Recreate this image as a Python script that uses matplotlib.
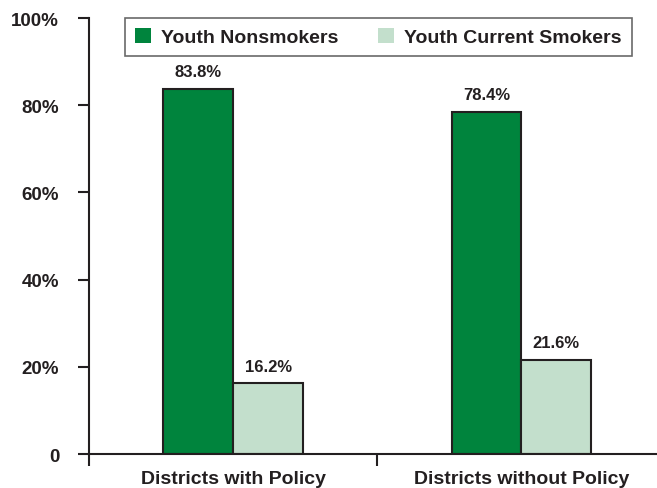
import matplotlib.pyplot as plt
import numpy as np

plt.rcParams['font.family'] = ['Liberation Sans', 'DejaVu Sans']
plt.rcParams['font.weight'] = 'bold'

# данные
categories = ["Districts with Policy", "Districts without Policy"]
nonsmokers = [83.8, 78.4]
smokers = [16.2, 21.6]
series_names = ["Youth Nonsmokers", "Youth Current Smokers"]

dark_green = "#00843d"
light_green = "#c3dfcc"
txt = "#231f20"

fig = plt.figure(figsize=(6.57, 4.89), dpi=100)
ax = fig.add_axes([0.1355, 0.0695, 0.8645, 0.8916])

x = np.arange(len(categories))
w = 0.242
b1 = ax.bar(x - w / 2, nonsmokers, w, color=dark_green, edgecolor=txt, linewidth=1.5, label=series_names[0])
b2 = ax.bar(x + w / 2, smokers, w, color=light_green, edgecolor=txt, linewidth=1.5, label=series_names[1])

for bars, vals in ((b1, nonsmokers), (b2, smokers)):
    for r, v in zip(bars, vals):
        ax.annotate("%.1f%%" % v, (r.get_x() + r.get_width() / 2, v), xytext=(0, 7),
                    textcoords="offset points", ha="center", va="bottom", fontsize=12, color=txt)

ax.set_ylim(0, 100)
ax.set_xlim(-0.5, 1.47)
ax.set_yticks([0, 20, 40, 60, 80, 100])
ax.set_yticklabels(["0", "20%", "40%", "60%", "80%", "100%"], fontsize=13.5, color=txt)
ax.set_xticks([-0.5, 0.5])
ax.set_xticklabels([])
ax.set_xticks(x, minor=True)
ax.set_xticklabels(categories, minor=True, fontsize=14, color=txt)
ax.tick_params(axis="x", which="minor", length=0, pad=11.5)
ax.tick_params(axis="x", which="major", length=8.5, width=1.5, color=txt)
ax.tick_params(axis="y", length=8, width=1.5, color=txt, pad=13.5)

for s in ("top", "right"):
    ax.spines[s].set_visible(False)
for s in ("left", "bottom"):
    ax.spines[s].set_linewidth(1.5)
    ax.spines[s].set_color(txt)

leg = ax.legend(loc="upper left", bbox_to_anchor=(0.0634, 1.0), borderaxespad=0, ncol=2, fontsize=14,
                frameon=True, fancybox=False, edgecolor="#444444", handlelength=0.82, handleheight=0.82,
                columnspacing=2.0, borderpad=0.5, handletextpad=0.55)
leg.get_frame().set_linewidth(1.2)
for h in leg.legend_handles:
    h.set_edgecolor("none")
for t in leg.get_texts():
    t.set_color(txt)

plt.savefig("out.png")
